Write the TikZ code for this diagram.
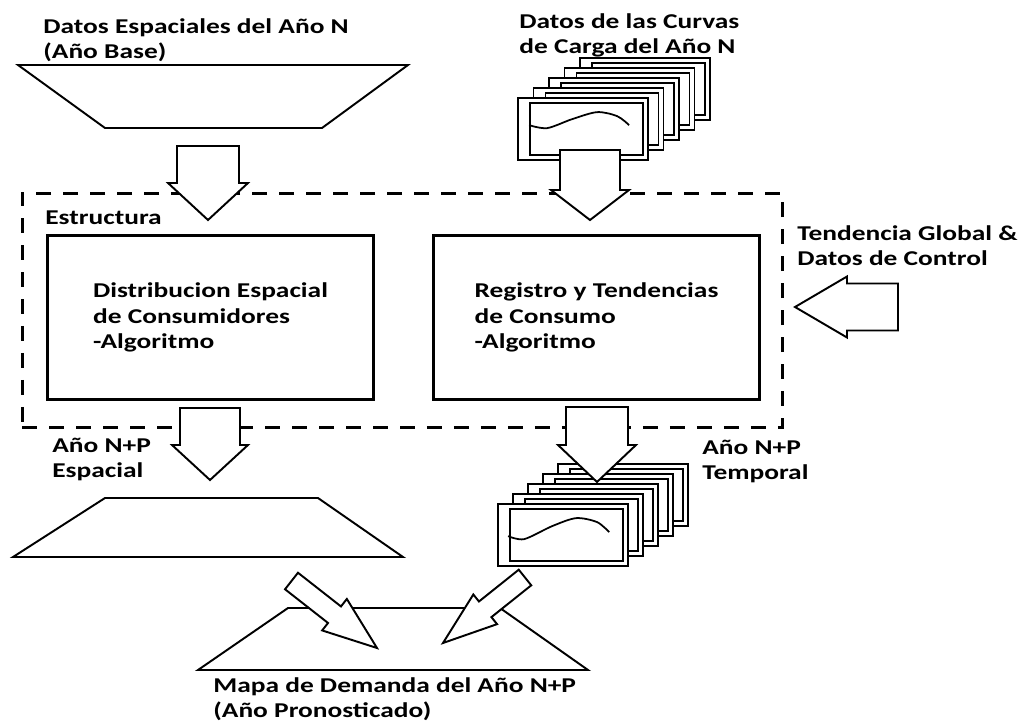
\documentclass[tikz,border=0pt]{standalone}
\usepackage{fontspec}
\setmainfont{Carlito}[FakeStretch=1.3]
\usetikzlibrary{calc}

\tikzset{
  lbl/.style={anchor=north west, inner sep=0pt, align=left, font=\bfseries\fontsize{12}{14.2}\selectfont},
  mapa/.style={draw, fill=white, line width=1.1pt, line join=miter},
  caja/.style={draw, line width=1.7pt, minimum width=65.4mm, minimum height=33mm,
    align=left, font=\bfseries\fontsize{12}{14.6}\selectfont},
  marco/.style={draw, line width=0.6mm, dash pattern=on 3mm off 2.4mm,
    minimum width=152.2mm, minimum height=47mm},
  hoja/.style={draw, fill=white, line width=1pt, inner sep=0pt,
    minimum width=26mm, minimum height=12.4mm,
    path picture={\draw[line width=1pt]
      ([shift={(2.4mm,-1mm)}]path picture bounding box.north west) rectangle
      ([shift={(-1mm,1mm)}]path picture bounding box.south east);}},
  flecha/.style={draw, fill=white, line width=1.1pt, line join=miter}
}

% block arrow: tail, tip, half shaft, half head, head length
\newcommand{\fatarrow}[5]{%
  \coordinate (fa-neck) at ($(#2)!#5!(#1)$);
  \draw[flecha] ($(#1)!#3!90:(#2)$) -- ($(fa-neck)!#3!90:(#2)$) -- ($(fa-neck)!#4!90:(#2)$)
    -- (#2) -- ($(fa-neck)!#4!-90:(#2)$) -- ($(fa-neck)!#3!-90:(#2)$) -- ($(#1)!#3!-90:(#2)$) -- cycle;}

\begin{document}
\begin{tikzpicture}[x=0.02cm, y=-0.02cm]
    \useasboundingbox[fill=white] (0,0) rectangle (1025,724);

    % entradas
    \node[lbl] (datosN) at (43,18) {Datos Espaciales del Año N\\(Año Base)};
    \draw[mapa] (18,65) -- (408,65) -- (322,128) -- (105,128) -- cycle;
    \coordinate (mapaN) at (213,96);
    \node[lbl] (curvasN) at (519,13) {Datos de las Curvas\\de Carga del Año N};
    \foreach \i in {4,3,2,1,0}
        \node[hoja] (cN\i) at (583+15.5*\i, 129-10*\i) {};
    \draw[line width=1pt, shift={(cN0.north west)}] plot[smooth] coordinates {(12,28) (30,31) (55,22) (80,15) (100,19) (112,28)};

    % estructura
    \node[marco] (marco) at (402.5,310.5) {};
    \node[lbl] (estr) at (45,210) {Estructura};
    \node[caja] (dist) at (210.5,317.5) {Distribucion Espacial\\de Consumidores\\-Algoritmo};
    \node[caja] (reg) at (596.5,317.5) {Registro y Tendencias\\de Consumo\\-Algoritmo};
    \node[lbl] (tend) at (797,225) {Tendencia Global \&\\Datos de Control};

    % salidas
    \node[lbl] (espacial) at (52,438) {Año N+P\\Espacial};
    \draw[mapa] (105,498) -- (318,498) -- (403,557) -- (13,557) -- cycle;
    \coordinate (mapaP) at (208,527);
    \node[lbl] (temporal) at (702,440) {Año N+P\\Temporal};
    \foreach \i in {4,3,2,1,0}
        \node[hoja] (cP\i) at (563+15*\i, 535-10*\i) {};
    \draw[line width=1pt, shift={(cP0.north west)}] plot[smooth] coordinates {(11,33) (27,36) (55,23) (79,15) (100,19) (112,29)};

    \draw[mapa] (288,608) -- (500,608) -- (588,670) -- (198,670) -- cycle;
    \coordinate (mapaF) at (393,639);
    \node[lbl] (final) at (213,677) {Mapa de Demanda del Año N+P\\(Año Pronosticado)};

    % flechas
    \coordinate (a1t) at (208,146); \coordinate (a1h) at (208,220);
    \coordinate (a2t) at (590,150); \coordinate (a2h) at (590,220);
    \coordinate (a3t) at (898,307); \coordinate (a3h) at (795,307);
    \coordinate (a4t) at (210,408); \coordinate (a4h) at (210,480);
    \coordinate (a5t) at (597,407); \coordinate (a5h) at (597,482);
    \coordinate (a6t) at (291.5,581); \coordinate (a6h) at (377,648);
    \coordinate (a7t) at (525,577.5); \coordinate (a7h) at (443,643);
    \fatarrow{a1t}{a1h}{6.2mm}{8mm}{7.4mm}
    \fatarrow{a2t}{a2h}{6mm}{7.8mm}{6mm}
    \fatarrow{a3t}{a3h}{4.7mm}{6.1mm}{10.4mm}
    \fatarrow{a4t}{a4h}{6mm}{7.6mm}{7mm}
    \fatarrow{a5t}{a5h}{6.2mm}{7.8mm}{7.4mm}
    \fatarrow{a6t}{a6h}{2.1mm}{4mm}{10.8mm}
    \fatarrow{a7t}{a7h}{2mm}{3.8mm}{10.8mm}
\end{tikzpicture}
\end{document}
